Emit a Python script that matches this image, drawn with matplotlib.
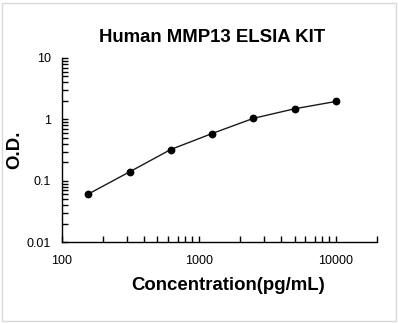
import matplotlib
matplotlib.use("Agg")
import matplotlib.pyplot as plt
from matplotlib.patches import Rectangle
from matplotlib.ticker import LogLocator, NullFormatter, FixedLocator, FixedFormatter

conc = [156.25, 312.5, 625, 1250, 2500, 5000, 10000]
od = [0.061, 0.140, 0.324, 0.589, 1.04, 1.49, 1.96]
xticks = [100, 1000, 10000]
xticklabels = ["100", "1000", "10000"]
yticks = [0.01, 0.1, 1, 10]
yticklabels = ["0.01", "0.1", "1", "10"]

plt.rcParams['font.family'] = ['Liberation Sans', 'DejaVu Sans']

W, H = 398, 323
fig = plt.figure(figsize=(W/100, H/100), dpi=100)
fig.patch.set_facecolor('white')
fig.patches.append(Rectangle((2/W, 2/H), (394)/W, (318)/H, transform=fig.transFigure,
                             fill=False, edgecolor='#d9d9d9', linewidth=1.0))

x0, x1 = 61.7, 377.0
ytop, ybot = 58.0, 242.3
ax = fig.add_axes([x0/W, 1 - ybot/H, (x1-x0)/W, (ybot-ytop)/H])
ax.set_xscale('log')
ax.set_yscale('log')
ax.set_xlim(100, 20000)
ax.set_ylim(0.01, 10)

ax.plot(conc, od, color='#1a1a1a', linewidth=1.0, marker='o', markersize=4.6,
        markerfacecolor='black', markeredgecolor='black')

for s in ['top', 'right']:
    ax.spines[s].set_visible(False)
for s in ['left', 'bottom']:
    ax.spines[s].set_linewidth(1.0)
    ax.spines[s].set_color('black')

ax.xaxis.set_major_locator(FixedLocator(xticks))
ax.xaxis.set_major_formatter(FixedFormatter(xticklabels))
ax.yaxis.set_major_locator(FixedLocator(yticks))
ax.yaxis.set_major_formatter(FixedFormatter(yticklabels))
ax.xaxis.set_minor_locator(LogLocator(base=10, subs=range(2, 10), numticks=20))
ax.yaxis.set_minor_locator(LogLocator(base=10, subs=range(2, 10), numticks=20))
ax.xaxis.set_minor_formatter(NullFormatter())
ax.yaxis.set_minor_formatter(NullFormatter())

ax.tick_params(axis='both', which='both', direction='in', length=4, width=1.0, color='black')
ax.tick_params(axis='x', which='major', pad=9.5, labelsize=9)
ax.tick_params(axis='y', which='major', pad=7.5, labelsize=9)

fig.text(212/W, 1 - 38/H, "Human MMP13 ELSIA KIT", ha='center', va='center',
         fontsize=13.4, fontweight='bold')
fig.text(228/W, 1 - 285/H, "Concentration(pg/mL)", ha='center', va='center',
         fontsize=13.4, fontweight='bold')
fig.text(15/W, 1 - 150/H, "O.D.", ha='center', va='center', rotation=90,
         fontsize=13.4, fontweight='bold')

fig.savefig('out.png', dpi=100)
